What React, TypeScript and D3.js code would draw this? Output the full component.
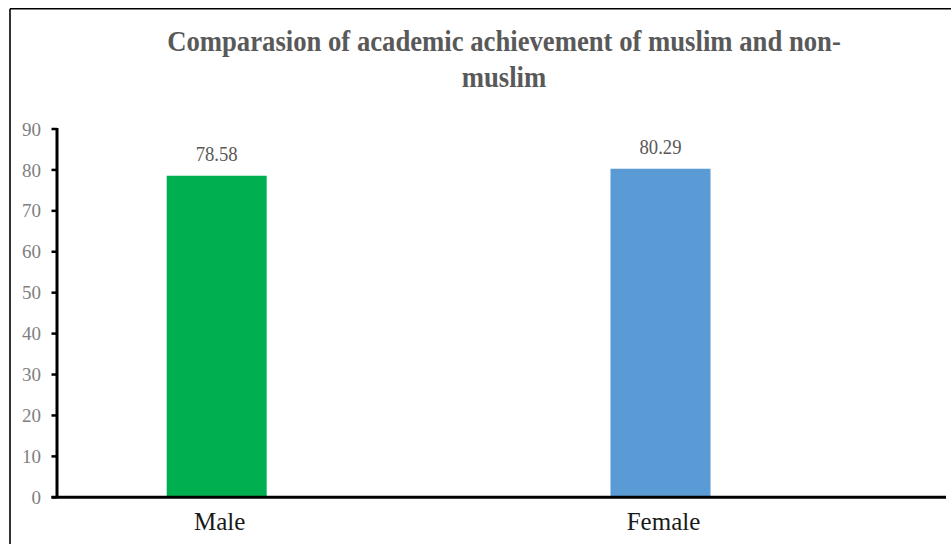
import React from "react";
import * as d3 from "d3";

// Mean academic achievement score by gender
const categories: string[] = ["Male", "Female"];
const scores: number[] = [78.58, 80.29];
const barColors: string[] = ["#00b050", "#5b9bd5"];
const yTicks: number[] = [0, 10, 20, 30, 40, 50, 60, 70, 80, 90];
const titleLines: string[] = ["Comparasion of academic achievement of muslim and non-", "muslim"];

const W = 951;
const H = 544;
const serif = "Liberation Serif";
// narrow, tall lettering for the title and value labels
const titleSqueeze = 0.89;
const valueSqueeze = 0.91;

export default function App() {
  const y = d3.scaleLinear().domain([0, 90]).range([497.3, 129]);
  const x = d3.scalePoint<string>().domain(categories).range([216.7, 660.5]);
  const barW = 100;
  const axisX = 57;

  return (
    <svg
      width={W}
      height={H}
      style={{ position: "absolute", left: 0, top: 0, background: "#fff" }}
    >
      {/* outer frame */}
      <line x1={10} y1={8.7} x2={W} y2={8.7} stroke="#000" strokeWidth={1.6} />
      <line x1={10} y1={8.7} x2={10} y2={H} stroke="#000" strokeWidth={1.6} />

      {/* title */}
      {titleLines.map((line, i) => (
        <text
          key={line}
          transform={`translate(504 ${51 + i * 35.7}) scale(${titleSqueeze} 1)`}
          textAnchor="middle"
          fontFamily={serif}
          fontWeight="bold"
          fontSize={30}
          fill="#595959"
        >
          {line}
        </text>
      ))}

      {/* bars */}
      {categories.map((c, i) => (
        <rect
          key={c}
          x={(x(c) as number) - barW / 2}
          y={y(scores[i])}
          width={barW}
          height={y(0) - y(scores[i])}
          fill={barColors[i]}
        />
      ))}

      {/* value labels */}
      {categories.map((c, i) => (
        <text
          key={c + "-v"}
          transform={`translate(${x(c) as number} ${y(scores[i]) - 14.6}) scale(${valueSqueeze} 1)`}
          textAnchor="middle"
          fontFamily={serif}
          fontSize={20.5}
          fill="#595959"
        >
          {scores[i].toFixed(2)}
        </text>
      ))}

      {/* y axis */}
      <line x1={axisX} y1={y(90) - 1} x2={axisX} y2={y(0)} stroke="#000" strokeWidth={3} />
      {yTicks.map((t) => (
        <g key={t}>
          <line x1={51.5} y1={y(t)} x2={axisX} y2={y(t)} stroke="#000" strokeWidth={2.5} />
          <text
            x={41}
            y={y(t)}
            dy="0.35em"
            textAnchor="end"
            fontFamily={serif}
            fontSize={19}
            fill="#808080"
          >
            {t}
          </text>
        </g>
      ))}

      {/* x axis */}
      <line x1={51.5} y1={y(0)} x2={946} y2={y(0)} stroke="#000" strokeWidth={3} />
      {categories.map((c) => (
        <text
          key={c + "-l"}
          x={(x(c) as number) + 3}
          y={530}
          textAnchor="middle"
          fontFamily={serif}
          fontSize={25}
          fill="#1a1a1a"
        >
          {c}
        </text>
      ))}
    </svg>
  );
}
